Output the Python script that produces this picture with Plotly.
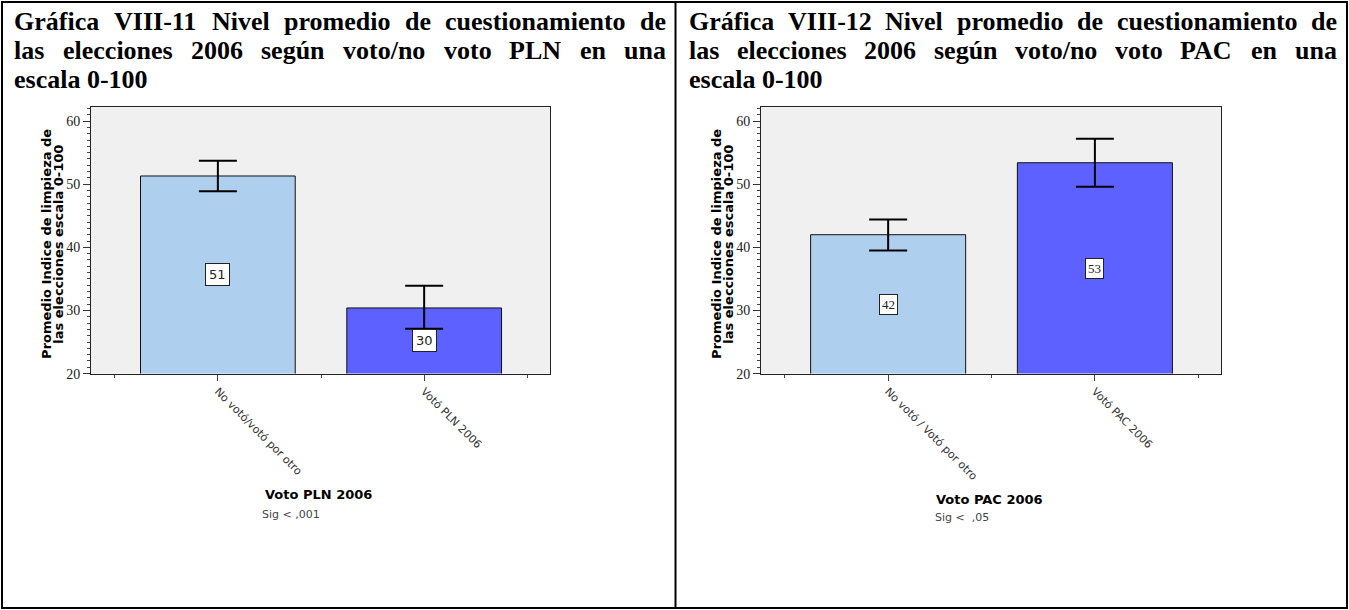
import plotly.graph_objects as go

# ---------------- data ----------------
left_categories = ["No votó/votó por otro", "Votó PLN 2006"]
left_means = [51.3, 30.4]
left_ci_upper = [53.7, 33.9]
left_ci_lower = [48.9, 27.1]
left_labels = ["51", "30"]
left_xtitle = "Voto PLN 2006"
left_sig = "Sig < ,001"
left_title_lines = ["Gráfica VIII-11 Nivel promedio de cuestionamiento de",
                    "las elecciones 2006 según voto/no voto PLN en una",
                    "escala 0-100"]

right_categories = ["No votó / Votó por otro", "Votó PAC 2006"]
right_means = [42.0, 53.4]
right_ci_upper = [44.4, 57.2]
right_ci_lower = [39.5, 49.6]
right_labels = ["42", "53"]
right_xtitle = "Voto PAC 2006"
right_sig = "Sig <  ,05"
right_title_lines = ["Gráfica VIII-12 Nivel promedio de cuestionamiento de",
                     "las elecciones 2006 según voto/no voto PAC en una",
                     "escala 0-100"]

ytitle_lines = ["Promedio Indice de limpieza de", "las elecciones escala 0-100"]
y_ticks = [20, 30, 40, 50, 60]
y_range = [20, 62.2]

# ---------------- layout constants ----------------
W, H = 1349, 610          # reference coordinate frame
H_FIG = 619               # rendered page height (the capture is squeezed to 610)
BAR_COLORS = ["#AECFEE", "#5C61FF"]

def px(x):
    return x / W

def py(y):
    return 1 - y / H

# Times New Roman Bold advance widths (per 1000 em) for justification
TW = {' ': 250, 'a': 500, 'á': 500, 'c': 444, 'd': 556, 'e': 444, 'f': 333, 'g': 500,
      'i': 278, 'l': 278, 'm': 833, 'n': 556, 'o': 500, 'p': 556, 'r': 444, 's': 389,
      't': 333, 'u': 556, 'ú': 556, 'v': 500, '/': 278, '-': 333, 'A': 722, 'C': 722,
      'G': 778, 'I': 389, 'L': 667, 'N': 722, 'P': 611, 'V': 722}
for dch in "0123456789":
    TW[dch] = 500

TITLE_SIZE = 26

def tw(s):
    return sum(TW.get(c, 500) for c in s) / 1000 * TITLE_SIZE

fig = go.Figure()
annotations = []

def add_title(lines, x0, width, mids):
    for li, line in enumerate(lines):
        ymid = mids[li]
        if li < len(lines) - 1:
            words = line.split(" ")
            total = sum(tw(w) for w in words)
            gap = (width - total) / (len(words) - 1)
            x = x0
            for w in words:
                annotations.append(dict(
                    text="<b>" + w + "</b>", xref="paper", yref="paper", x=px(x), y=py(ymid),
                    xanchor="left", yanchor="middle", showarrow=False, borderpad=0,
                    font=dict(family="Liberation Serif", size=TITLE_SIZE, color="#000")))
                x += tw(w) + gap
        else:
            annotations.append(dict(
                text="<b>" + line + "</b>", xref="paper", yref="paper", x=px(x0), y=py(ymid),
                xanchor="left", yanchor="middle", showarrow=False, borderpad=0,
                font=dict(family="Liberation Serif", size=TITLE_SIZE, color="#000")))

add_title(left_title_lines, 13, 652, [21, 50, 79])
add_title(right_title_lines, 688, 648, [21, 50, 79])

panels = [
    dict(cats=left_categories, means=left_means, up=left_ci_upper, lo=left_ci_lower,
         labels=left_labels, xt=left_xtitle, sig=left_sig, xa="x", ya="y",
         xdom=[91, 550], lblfont="DejaVu Sans", lblpad=3, xt_pos=(318, 494), sig_pos=(260, 514),
         ytx=(46.5, 58.3)),
    dict(cats=right_categories, means=right_means, up=right_ci_upper, lo=right_ci_lower,
         labels=right_labels, xt=right_xtitle, sig=right_sig, xa="x2", ya="y2",
         xdom=[761, 1221], lblfont="Liberation Serif", lblpad=2, xt_pos=(989, 499), sig_pos=(933, 517),
         ytx=(716.5, 728.3)),
]

ydom = [py(373), py(107)]

for i, p in enumerate(panels):
    xs = list(range(len(p["cats"])))
    fig.add_trace(go.Bar(
        x=xs, y=p["means"], width=0.75, xaxis=p["xa"], yaxis=p["ya"],
        marker=dict(color=BAR_COLORS, line=dict(color="#111", width=1)),
        error_y=dict(type="data", symmetric=False,
                     array=[u - m for u, m in zip(p["up"], p["means"])],
                     arrayminus=[m - l for m, l in zip(p["means"], p["lo"])],
                     color="#000", thickness=2, width=19),
        showlegend=False, hoverinfo="skip"))
    # value labels in the middle of the visible bar
    for xv, m, lab in zip(xs, p["means"], p["labels"]):
        annotations.append(dict(
            text=lab, xref=p["xa"], yref=p["ya"], x=xv, y=(y_range[0] + m) / 2,
            showarrow=False, bgcolor="#fff", bordercolor="#222", borderwidth=1,
            borderpad=p["lblpad"], font=dict(family=p["lblfont"], size=13, color="#222")))
    # axis titles
    annotations.append(dict(
        text="<b>" + p["xt"] + "</b>", xref="paper", yref="paper",
        x=px(p["xt_pos"][0]), y=py(p["xt_pos"][1]),
        xanchor="center", yanchor="middle", showarrow=False,
        font=dict(family="DejaVu Sans", size=13, color="#000")))
    annotations.append(dict(
        text=p["sig"].replace("  ", "&nbsp; "), xref="paper", yref="paper",
        x=px(p["sig_pos"][0]), y=py(p["sig_pos"][1]),
        xanchor="left", yanchor="middle", showarrow=False,
        font=dict(family="DejaVu Sans", size=11, color="#444")))
    for xl, line in zip(p["ytx"], ytitle_lines):
        annotations.append(dict(
            text="<b>" + line + "</b>", xref="paper", yref="paper", x=px(xl), y=py(244),
            xanchor="center", yanchor="middle", showarrow=False, textangle=-90,
            font=dict(family="DejaVu Sans", size=13, color="#000")))

    xkey = "xaxis" if i == 0 else "xaxis2"
    ykey = "yaxis" if i == 0 else "yaxis2"
    xdom = [px(p["xdom"][0]), px(p["xdom"][1])]
    fig.update_layout(**{
        xkey: dict(domain=xdom, anchor=p["ya"], range=[-0.615, 1.61],
                   tickmode="array", tickvals=xs, ticktext=p["cats"], tickangle=45,
                   ticks="outside", ticklen=6, tickcolor="#444", tickwidth=1,
                   minor=dict(tickmode="linear", tick0=0.5, dtick=1, ticks="outside",
                              ticklen=3, tickcolor="#444", showgrid=False),
                   showline=True, mirror=True, linecolor="#222", linewidth=1,
                   showgrid=False, zeroline=False, fixedrange=True,
                   tickfont=dict(family="DejaVu Sans", size=11, color="#333")),
        ykey: dict(domain=ydom, anchor=p["xa"], range=y_range,
                   tickmode="array", tickvals=y_ticks,
                   ticks="outside", ticklen=7, tickcolor="#333", tickwidth=1,
                   minor=dict(tickmode="linear", tick0=20, dtick=1, ticks="outside",
                              ticklen=3, tickcolor="#444", showgrid=False),
                   showline=True, mirror=True, linecolor="#222", linewidth=1,
                   showgrid=False, zeroline=False, fixedrange=True,
                   tickfont=dict(family="Liberation Serif", size=14, color="#222")),
    })

shapes = [
    dict(type="rect", xref="paper", yref="paper", x0=px(2), x1=px(1347), y0=py(607), y1=py(2),
         line=dict(color="#000", width=2)),
    dict(type="line", xref="paper", yref="paper", x0=px(675.5), x1=px(675.5), y0=py(607), y1=py(2),
         line=dict(color="#000", width=2)),
]

fig.update_layout(
    width=W, height=H_FIG, autosize=False,
    margin=dict(l=0, r=0, t=0, b=0),
    paper_bgcolor="#fff", plot_bgcolor="#F0F0F0",
    annotations=annotations, shapes=shapes,
    bargap=0.25, showlegend=False,
)

post = ("document.documentElement.style.margin='0';"
        "document.documentElement.style.overflow='hidden';"
        "document.body.style.margin='0';"
        "document.body.style.overflow='hidden';"
        "var d=document.getElementById('{plot_id}');"
        "var c=d.parentElement;c.style.position='fixed';c.style.left='0';c.style.top='0';"
        "c.style.width='1349px';c.style.height='" + str(H_FIG) + "px';")

fig.write_html("out.html", config={"displayModeBar": False}, post_script=post)
